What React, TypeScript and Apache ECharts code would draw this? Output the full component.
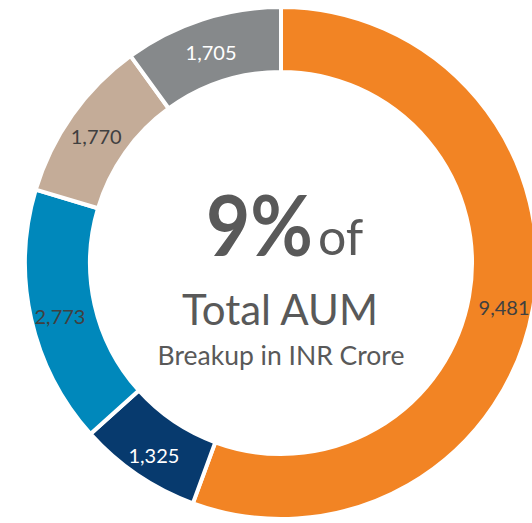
import React, { useEffect, useRef } from "react";
import * as echarts from "echarts";

const categories = ["Segment A", "Segment B", "Segment C", "Segment D", "Segment E"];
const values = [9481, 1325, 2773, 1770, 1705];
const colors = ["#F28424", "#073A6E", "#0088BB", "#C4AC98", "#86898B"];
const labelColors = ["#404040", "#FFFFFF", "#404040", "#404040", "#FFFFFF"];
const centerBig = "9%";
const centerOf = "of";
const centerMid = "Total AUM";
const centerSub = "Breakup in INR Crore";

const FONT = "Lato, 'Noto Sans', sans-serif";

export default function App() {
  const ref = useRef<HTMLDivElement>(null);
  useEffect(() => {
    if (!ref.current) return;
    const chart = echarts.init(ref.current, undefined, { renderer: "svg" });
    chart.setOption({
      animation: false,
      backgroundColor: "#FFFFFF",
      series: [
        {
          type: "pie",
          center: [281, 263],
          radius: [191, 256],
          startAngle: 90,
          clockwise: true,
          avoidLabelOverlap: false,
          itemStyle: { borderColor: "#FFFFFF", borderWidth: 4 },
          label: {
            show: true,
            position: "inside",
            fontFamily: FONT,
            fontSize: 20,
            offset: [0, 4],
            formatter: (p: any) => Number(p.value).toLocaleString("en-US"),
          },
          labelLine: { show: false },
          emphasis: { disabled: true },
          data: categories.map((c, i) => ({
            name: c,
            value: values[i],
            itemStyle: { color: colors[i] },
            label: { color: labelColors[i] },
          })),
        },
      ],
      graphic: [
        {
          type: "text",
          x: 313,
          y: 224,
          scaleX: 0.91,
          style: {
            text: centerBig,
            fontFamily: FONT,
            fontWeight: "bold",
            fontSize: 84,
            fill: "#595959",
            align: "right",
            verticalAlign: "middle",
          },
        },
        {
          type: "text",
          x: 318,
          y: 236,
          style: {
            text: centerOf,
            fontFamily: FONT,
            fontSize: 50,
            fill: "#595959",
            align: "left",
            verticalAlign: "middle",
          },
        },
        {
          type: "text",
          x: 280,
          y: 309,
          style: {
            text: centerMid,
            fontFamily: FONT,
            fontSize: 42,
            fill: "#595959",
            align: "center",
            verticalAlign: "middle",
          },
        },
        {
          type: "text",
          x: 281,
          y: 355,
          style: {
            text: centerSub,
            fontFamily: FONT,
            fontSize: 26.5,
            fill: "#595959",
            align: "center",
            verticalAlign: "middle",
          },
        },
      ],
    });
    return () => chart.dispose();
  }, []);
  return (
    <div
      ref={ref}
      style={{ position: "fixed", left: 0, top: 0, width: 532, height: 523 }}
    />
  );
}
